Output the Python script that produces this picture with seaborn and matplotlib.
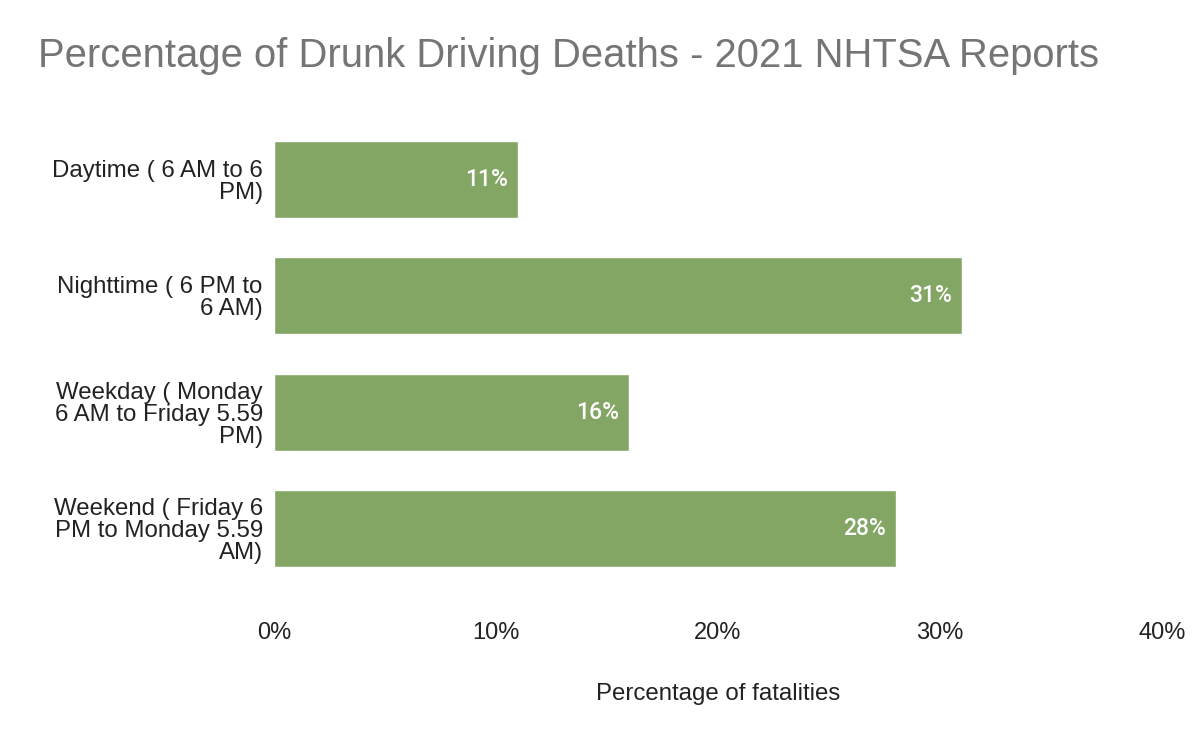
import numpy as np
import pandas as pd
import matplotlib
matplotlib.use("Agg")
import matplotlib.pyplot as plt
import seaborn as sns

# data
categories = [
    "Daytime ( 6 AM to 6\nPM)",
    "Nighttime ( 6 PM to\n6 AM)",
    "Weekday ( Monday\n6 AM to Friday 5.59\nPM)",
    "Weekend ( Friday 6\nPM to Monday 5.59\nAM)",
]
percentages = [11, 31, 16, 28]
x_ticks = [0, 10, 20, 30, 40]

df = pd.DataFrame({"category": categories, "pct": percentages})

sns.set_theme(style="white")
plt.rcParams["font.family"] = ["Liberation Sans", "DejaVu Sans"]

fig = plt.figure(figsize=(12, 7.42), dpi=100)
ax = fig.add_axes([0.2283, 0.209, 0.74, 0.628])

sns.barplot(data=df, x="pct", y="category", color="#83a665", saturation=1,
            width=0.66, ax=ax)

# value labels inside the bar ends
for bar, v in zip(ax.patches, percentages):
    ax.text(bar.get_width() - 0.45, bar.get_y() + bar.get_height() / 2,
            f"{v}%", ha="right", va="center", color="white",
            fontsize=16.5, family="Roboto", weight="medium")

ax.set_xlim(0, 40)
ax.set_xticks(x_ticks)
ax.set_xticklabels([f"{t}%" for t in x_ticks], fontsize=17, color="#222222")
ax.tick_params(axis="x", length=0, pad=25)
ax.tick_params(axis="y", length=0, pad=8, labelsize=17.3, labelcolor="#222222")
for lbl in ax.get_yticklabels():
    lbl.set_linespacing(1.0)

ax.set_ylabel("")
ax.set_xlabel("Percentage of fatalities", fontsize=17.3, color="#222222",
              labelpad=28)
sns.despine(ax=ax, left=True, bottom=True)

fig.text(0.032, 0.925, "Percentage of Drunk Driving Deaths - 2021 NHTSA Reports",
         fontsize=28.8, color="#757575", va="center")

fig.savefig("out.png", dpi=100, facecolor="white")
